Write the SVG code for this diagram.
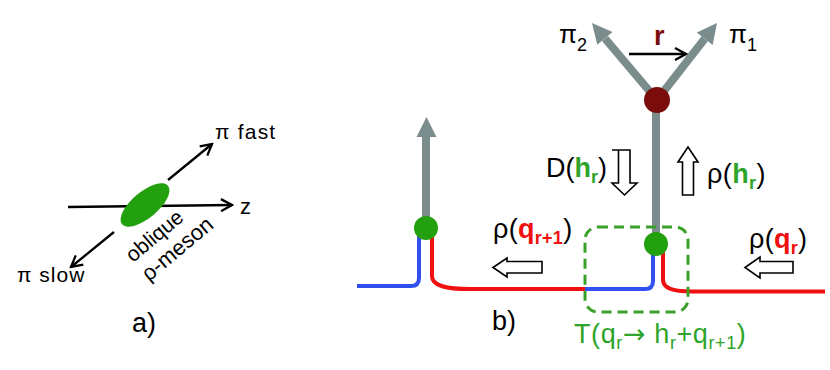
<svg xmlns="http://www.w3.org/2000/svg" width="830" height="370" viewBox="0 0 830 370">
<style>
text{font-family:"Liberation Sans",Arial,sans-serif;fill:#000}
.g{fill:#2ea52a}
.gb{fill:#2ea52a;font-weight:bold}
.rb{fill:#f01010;font-weight:bold}
.thin{fill:none;stroke:#000;stroke-width:2.3}
.gray{fill:none;stroke:#7b8c8c;stroke-width:8}
.grayh{fill:#7b8c8c}
.blue{fill:none;stroke:#3050f0;stroke-width:4}
.red{fill:none;stroke:#f01010;stroke-width:4}
.open{fill:#fff;stroke:#000;stroke-width:1.6;stroke-linejoin:miter}
.dot{fill:#22a00e}
.arr{font-family:"DejaVu Sans",sans-serif}
</style>
<defs>
<marker id="chev" viewBox="0 0 14 14" refX="12" refY="7" markerWidth="14" markerHeight="14" markerUnits="userSpaceOnUse" orient="auto">
<path d="M1,1 L12,7 L1,13" fill="none" stroke="#000" stroke-width="2.3"/>
</marker>
</defs>

<g id="panel-a">
<g id="connectors-a">
<line class="thin" x1="68" y1="207" x2="232" y2="205" marker-end="url(#chev)"/>
<line class="thin" x1="168" y1="180" x2="212" y2="144" marker-end="url(#chev)"/>
<line class="thin" x1="114" y1="232" x2="71" y2="267" marker-end="url(#chev)"/>
</g>
<g id="rho-meson">
<ellipse cx="145" cy="205" rx="30" ry="13" transform="rotate(-40 145 205)" class="dot"/>
</g>
<text x="240" y="214" font-size="22">z</text>
<text x="215" y="139" font-size="21" letter-spacing="1.2">π fast</text>
<text x="17" y="282" font-size="21" letter-spacing="1">π slow</text>
<text transform="translate(133 263) rotate(-40)" font-size="21">oblique</text>
<text transform="translate(149 282) rotate(-40)" font-size="22">ρ-meson</text>
<text x="132" y="332" font-size="27">a)</text>
</g>

<g id="connectors">
<path class="blue" d="M357,286 H411 Q419,286 419,278 V236"/>
<path class="red" d="M432,236 V276 C432,286 446,289 470,289 H585"/>
<path class="blue" d="M585,289 H645 Q653,289 653,281 V250"/>
<path class="red" d="M663,250 V280 C663,288 672,291.5 692,291.5 H825"/>
<line class="gray" x1="426" y1="227" x2="426" y2="136"/>
<polygon class="grayh" points="416.5,137 426.5,117 436.5,137"/>
<line class="gray" x1="656" y1="244" x2="656" y2="100" stroke-width="7"/>
<line class="gray" x1="657" y1="100" x2="605" y2="38.5"/>
<polygon class="grayh" points="592,23 612.5,31.9 597.3,44.8"/>
<line class="gray" x1="657" y1="100" x2="704.7" y2="38.8"/>
<polygon class="grayh" points="717,23 712.6,45 696.8,32.6"/>
<line class="thin" x1="629" y1="54" x2="686" y2="54" marker-end="url(#chev)"/>
</g>

<g id="box-T">
<rect x="585" y="227" width="103" height="85" rx="13" fill="none" stroke="#3aa02a" stroke-width="3" stroke-dasharray="10 6"/>
</g>

<g id="vertex-left"><circle cx="426" cy="228" r="12" class="dot"/></g>
<g id="vertex-right"><circle cx="656" cy="244" r="12" class="dot"/></g>
<g id="decay-vertex"><circle cx="657" cy="100" r="13" fill="#7b0c0c"/></g>

<g id="flow-arrows">
<polygon class="open" points="612,150 630,150 630,183 637,183 624.5,195 612,183 618.5,183 618.5,150"/>
<polygon class="open" points="688,147 698,162 693.5,162 693.5,195 682.5,195 682.5,162 678,162"/>
<polygon class="open" points="493,267.5 507,258 507,261.5 542,261.5 542,273 507,273 507,277"/>
<polygon class="open" points="745,267.5 760,257 760,261.5 793,261.5 793,273 760,273 760,278"/>
</g>

<g id="labels">
<text x="559" y="43" font-size="26">π<tspan font-size="18" dy="8">2</tspan></text>
<text x="729" y="43" font-size="26">π<tspan font-size="18" dy="8">1</tspan></text>
<text x="654" y="45" font-size="27" font-weight="bold" style="fill:#7b0c0c">r</text>
<text x="546" y="177" font-size="27">D(<tspan class="gb">h</tspan><tspan class="gb" font-size="18" dy="6">r</tspan><tspan dy="-6">)</tspan></text>
<text x="707" y="183" font-size="27" letter-spacing="0.4">ρ(<tspan class="gb">h</tspan><tspan class="gb" font-size="18" dy="6">r</tspan><tspan dy="-6">)</tspan></text>
<text x="493" y="238" font-size="27" letter-spacing="0.3">ρ(<tspan class="rb">q</tspan><tspan class="rb" font-size="18" dy="6">r+1</tspan><tspan dy="-6">)</tspan></text>
<text x="749" y="248" font-size="27" letter-spacing="0.3">ρ(<tspan class="rb">q</tspan><tspan class="rb" font-size="18" dy="6">r</tspan><tspan dy="-6">)</tspan></text>
<text x="492" y="330" font-size="27">b)</text>
<text x="574" y="343" font-size="27" class="g" letter-spacing="0.6">T(q<tspan font-size="18" dy="6">r</tspan><tspan dy="-6" class="arr" font-size="27">→</tspan> h<tspan font-size="18" dy="6">r</tspan><tspan dy="-6">+q</tspan><tspan font-size="18" dy="6">r+1</tspan><tspan dy="-6">)</tspan></text>
</g>
</svg>
